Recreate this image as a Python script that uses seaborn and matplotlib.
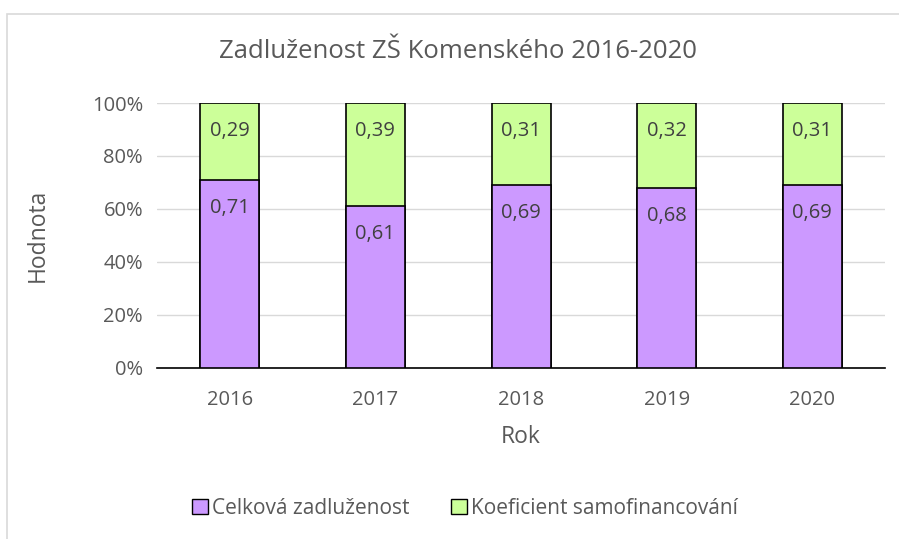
import numpy as np
import pandas as pd
import seaborn as sns
import matplotlib.pyplot as plt
from matplotlib.patches import Patch, Rectangle

years = ['2016', '2017', '2018', '2019', '2020']
zadluzenost = [0.71, 0.61, 0.69, 0.68, 0.69]
samofinancovani = [0.29, 0.39, 0.31, 0.32, 0.31]

purple = '#CC99FF'
green = '#CCFF99'
txt = '#595959'

sns.set_theme(style='white')
plt.rcParams['font.family'] = ['Open Sans', 'DejaVu Sans']

df = pd.DataFrame({'Rok': years, 'zad': zadluzenost, 'sam': samofinancovani})
df['total'] = df['zad'] + df['sam']

fig = plt.figure(figsize=(8.99, 5.39), dpi=100)
ax = fig.add_axes([0.1746, 0.3173, 0.81, 0.4916])

# outer chart frame (only left and top edges are visible in the crop)
fig.patches.append(Rectangle((7 / 899, -0.1), 1.2, 1.1 - 14 / 539, transform=fig.transFigure,
                             fill=False, edgecolor='#D9D9D9', linewidth=1.2))

sns.barplot(data=df, x='Rok', y='total', color=green, edgecolor='black',
            linewidth=1.2, width=0.405, saturation=1, ax=ax, zorder=3)
sns.barplot(data=df, x='Rok', y='zad', color=purple, edgecolor='black',
            linewidth=1.2, width=0.405, saturation=1, ax=ax, zorder=4)

for i in range(len(years)):
    ax.annotate(f"{zadluzenost[i]:.2f}".replace('.', ','), (i, zadluzenost[i]),
                xytext=(0, -20), textcoords='offset points', ha='center', va='center',
                fontsize=14.5, color='#404040', zorder=5)
    ax.annotate(f"{samofinancovani[i]:.2f}".replace('.', ','), (i, df['total'][i]),
                xytext=(0, -20), textcoords='offset points', ha='center', va='center',
                fontsize=14.5, color='#404040', zorder=5)

ax.set_ylim(0, 1)
ax.set_xlim(-0.5, 4.5)
ax.set_yticks(np.arange(0, 1.01, 0.2))
ax.set_yticklabels([f"{int(round(v * 100))}%" for v in np.arange(0, 1.01, 0.2)])
ax.yaxis.grid(True, color='#D9D9D9', linewidth=1)
ax.set_axisbelow(True)
for s in ['top', 'right', 'left']:
    ax.spines[s].set_visible(False)
ax.spines['bottom'].set_color('black')
ax.spines['bottom'].set_linewidth(1.2)
ax.tick_params(axis='y', colors=txt, labelsize=14.5, length=0, pad=10)
ax.tick_params(axis='x', colors=txt, labelsize=14.5, length=0, pad=16)

ax.set_xlabel('Rok', fontsize=16.5, color=txt, labelpad=11)
ax.set_ylabel('Hodnota', fontsize=16.5, color=txt, labelpad=30)
fig.suptitle('Zadluženost ZŠ Komenského 2016-2020', x=458 / 899, y=1 - 52 / 539,
             va='center', fontsize=18.5, color=txt)

handles = [Patch(facecolor=purple, edgecolor='black', label='Celková zadluženost'),
           Patch(facecolor=green, edgecolor='black', label='Koeficient samofinancování')]
fig.legend(handles=handles, loc='center', bbox_to_anchor=(465 / 899, 1 - 508 / 539),
           ncol=2, frameon=False, fontsize=15, handlelength=0.75, handleheight=0.75,
           handletextpad=0.2, columnspacing=2.0, labelcolor=txt)

fig.savefig('out.png', dpi=100)
